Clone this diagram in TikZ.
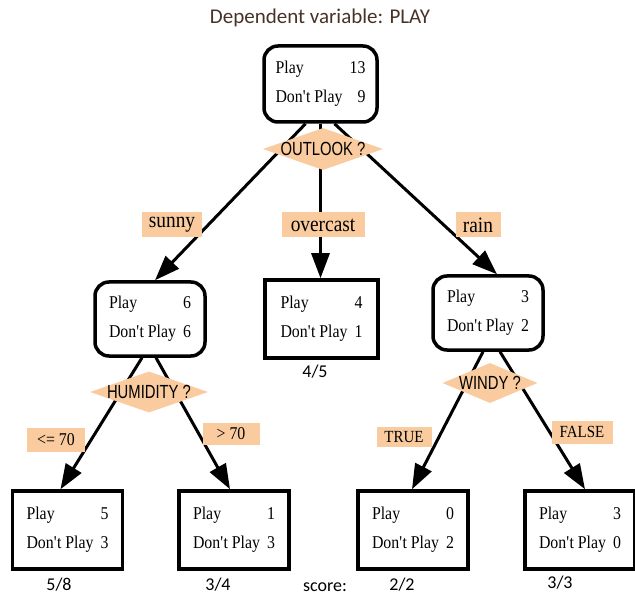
\documentclass[tikz,border=0pt]{standalone}
\usepackage{fontspec}
\setmainfont[FakeStretch=0.88]{Liberation Serif}
\newfontfamily\carlito{Carlito}
\newfontfamily\narrowsans[FakeStretch=0.78]{Liberation Sans}
\usetikzlibrary{shapes.geometric,arrows.meta,calc}
\definecolor{peach}{RGB}{249,203,158}
\definecolor{titlebrown}{RGB}{72,50,40}
\newcommand\counts[2]{\begin{tabular}{@{}l@{\hspace{7pt}}r@{}}Play & #1\\[9pt] Don\textquotesingle t Play & #2\end{tabular}}
\newcommand\dtext[1]{\makebox[0pt]{\smash{\raisebox{-0.36em}{#1}}}}
\tikzset{
  countbox/.style={draw, line width=3.5pt, minimum width=110pt, minimum height=74pt, inner sep=0pt,
    font=\fontsize{18}{20}\selectfont},
  roundbox/.style={countbox, rounded corners=14pt},
  leafbox/.style={countbox, minimum width=110pt, minimum height=78pt},
  dia/.style={diamond, fill=peach, inner sep=0pt, font=\narrowsans\fontsize{19}{22}\selectfont},
  edgelab/.style={fill=peach, inner sep=0pt, font=\fontsize{18}{21}\selectfont},
  biglab/.style={fill=peach, inner sep=0pt, minimum height=25pt, font=\fontsize{22}{25}\selectfont},
  scorelab/.style={font=\carlito\fontsize{18}{21}\selectfont},
  conn/.style={line width=3pt, -{Triangle[length=25pt,width=18pt]}},
}
\begin{document}
\begin{tikzpicture}[x=1pt,y=-1pt]
\useasboundingbox (0,0) rectangle (635,596);

\node[font=\carlito\fontsize{21}{25}\selectfont, text=titlebrown] (title) at (320,18) {Dependent variable: PLAY};

% boxes
\node[roundbox, minimum width=113pt, minimum height=76pt] (root) at (320.5,84) {\counts{13}{9}};
\node[roundbox] (sunny) at (150,319) {\counts{6}{6}};
\node[countbox, minimum width=113pt, minimum height=78pt] (over) at (321.5,319) {\counts{4}{1}};
\node[roundbox] (rain) at (488,313) {\counts{3}{2}};
\node[leafbox] (ll) at (67.5,530) {\counts{5}{3}};
\node[leafbox] (lr) at (234,530) {\counts{1}{3}};
\node[leafbox] (rl) at (413,530) {\counts{0}{2}};
\node[leafbox] (rr) at (580,530) {\counts{3}{0}};

% connectors
\draw[conn] ($(root.south)+(-15,0)$) -- ($(sunny.north)+(5,0)$);
\draw[conn] (root.south) -- (root.south |- over.north);
\draw[conn] ($(root.south)+(14,0)$) -- ($(rain.north)+(9,0)$);
\draw[conn] ($(sunny.south)+(-8,0)$) -- ($(ll.north)+(-7,0)$);
\draw[conn] ($(sunny.south)+(6,0)$) -- ($(lr.north)+(-4,0)$);
\draw[conn] ($(rain.south)+(-5,0)$) -- ($(rl.north)+(-1,0)$);
\draw[conn] ($(rain.south)+(12,0)$) -- ($(rr.north)+(5,0)$);

% decision diamonds
\node[dia, minimum width=120pt, minimum height=42pt] (outlook) at (323,149) {\dtext{OUTLOOK ?}};
\node[dia, minimum width=118pt, minimum height=41pt] (humid) at (149,392) {\dtext{HUMIDITY ?}};
\node[dia, minimum width=95pt, minimum height=40pt] (windy) at (490,383) {\dtext{WINDY ?}};

% edge labels
\node[biglab, minimum width=60pt] (lsunny) at (172,225) {sunny};
\node[biglab, minimum width=83pt] (lover) at (323,225) {overcast};
\node[biglab, minimum width=45pt] (lrain) at (478,225) {rain};
\node[edgelab, minimum width=58pt, minimum height=24pt] (lle) at (56,440) {<= 70};
\node[edgelab, minimum width=57pt, minimum height=22pt] (lgt) at (231,434) {> 70};
\node[edgelab, minimum width=55pt, minimum height=20pt, font=\fontsize{17}{19}\selectfont] (ltrue) at (404,437) {TRUE};
\node[edgelab, minimum width=61pt, minimum height=23pt, font=\fontsize{17}{19}\selectfont] (lfalse) at (582,432) {FALSE};

% scores
\node[scorelab] (s45) at (315,372) {4/5};
\node[scorelab] (s58) at (59,585) {5/8};
\node[scorelab] (s34) at (218,585) {3/4};
\node[scorelab] (score) at (325,587) {score:};
\node[scorelab] (s22) at (402,585) {2/2};
\node[scorelab] (s33) at (560,583) {3/3};
\end{tikzpicture}
\end{document}
